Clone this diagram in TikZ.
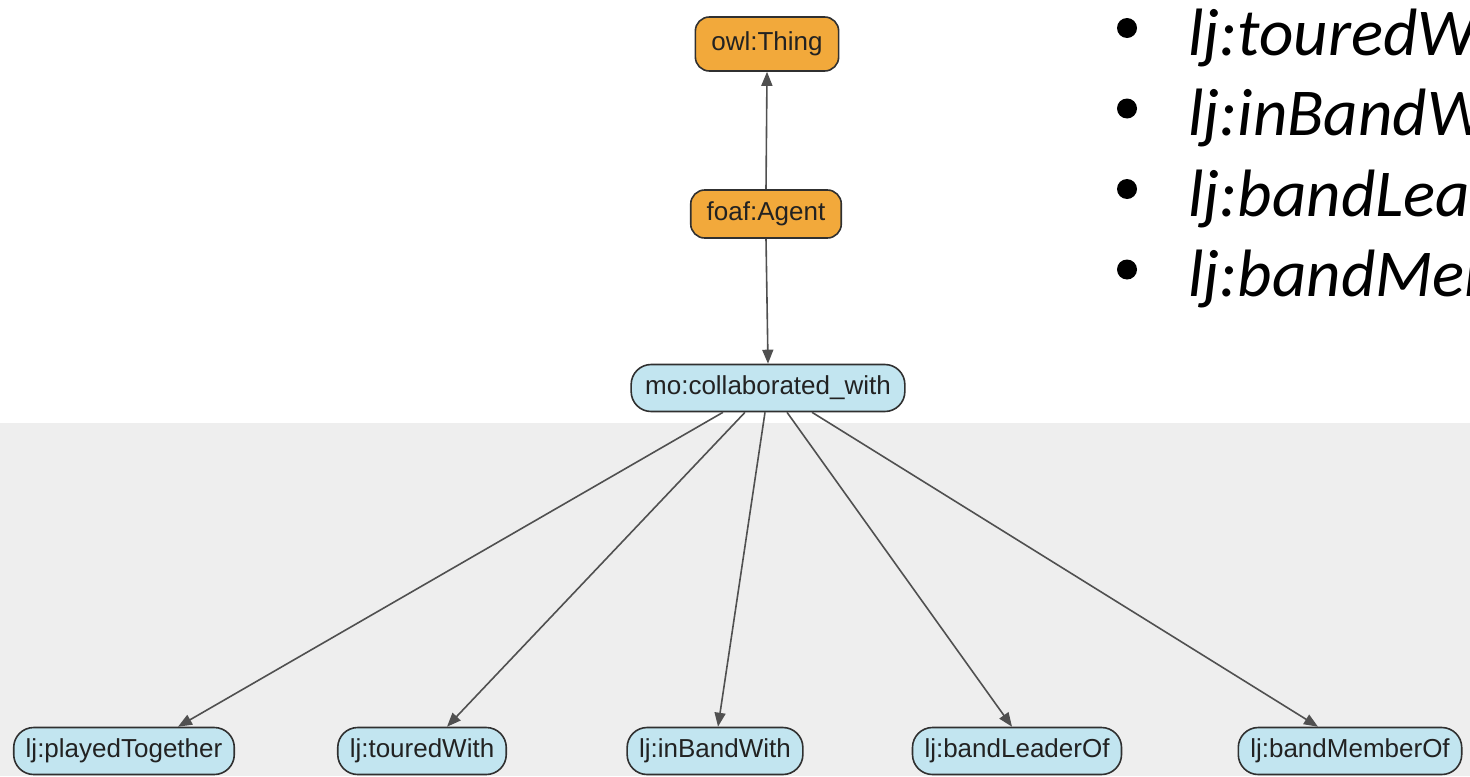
\documentclass[tikz,border=0pt]{standalone}
\usepackage{fontspec}
\setmainfont{Liberation Sans}
\newfontfamily\slidefont{Carlito}
\usetikzlibrary{arrows.meta,calc}
\definecolor{edgegray}{HTML}{505050}
\definecolor{bordergray}{HTML}{303030}
\definecolor{classorange}{HTML}{F2A93B}
\definecolor{propblue}{HTML}{C2E5F0}
\definecolor{panelgray}{HTML}{EEEEEE}
\definecolor{inktext}{HTML}{222222}
\tikzset{
  classnode/.style={rectangle, rounded corners=7pt, draw=bordergray, line width=0.8pt,
                    fill=classorange, inner xsep=8pt, minimum height=24pt,
                    text=inktext, font=\fontsize{13}{15}\selectfont},
  propnode/.style={rectangle, rounded corners=10pt, draw=bordergray, line width=0.8pt,
                   fill=propblue, inner xsep=6pt, minimum height=23.5pt,
                   text=inktext, font=\fontsize{13}{15}\selectfont},
  subof/.style={-{Triangle[length=7pt,width=5.5pt]}, line width=0.8pt, draw=edgegray},
  bullettext/.style={font=\slidefont\itshape\fontsize{33.5}{40}\selectfont,
                     inner sep=0pt, anchor=base west}
}

\begin{document}
\begin{tikzpicture}[x=0.5pt,y=-0.5pt]
\useasboundingbox (0,0) rectangle (1470,776);
\fill[panelgray] (0,423) rectangle (1470,776);
% class hierarchy
\node[classnode, minimum height=27pt] (thing) at (767,44) {owl:Thing};
\node[classnode] (agent) at (766,214) {foaf:Agent};
\node[propnode, inner xsep=7pt] (collab) at (768,388) {mo:collaborated\_with};
\node[propnode] (played) at (124,751) {lj:playedTogether};
\node[propnode] (toured) at (422,751) {lj:touredWith};
\node[propnode] (inband) at (715,751) {lj:inBandWith};
\node[propnode] (leader) at (1017,751) {lj:bandLeaderOf};
\node[propnode] (member) at (1350,751) {lj:bandMemberOf};
\draw[subof] (agent.north) -- (thing.south);
\draw[subof] (agent.south) -- (collab.north);
\draw[subof] ($(collab.south)+(-45,0)$) -- ($(played.north)+(54,0)$);
\draw[subof] ($(collab.south)+(-23,0)$) -- ($(toured.north)+(25,0)$);
\draw[subof] ($(collab.south)+(-3,0)$) -- ($(inband.north)+(3,0)$);
\draw[subof] ($(collab.south)+(19,0)$) -- ($(leader.north)+(-5,0)$);
\draw[subof] ($(collab.south)+(44,0)$) -- ($(member.north)+(-32,0)$);
% slide bullets, cut at the right edge
\begin{scope}
\clip (0,0) rectangle (1470,776);
\foreach \lbl [count=\i] in {touredWith,inBandWith,bandLeaderOf,bandMemberOf} {
  \fill (1127,28+80.5*\i-80.5) circle[radius=10];
  \node[bullettext] (item\i) at (1188,55+80.5*\i-80.5) {lj:\lbl};
}
\end{scope}
\end{tikzpicture}
\end{document}
